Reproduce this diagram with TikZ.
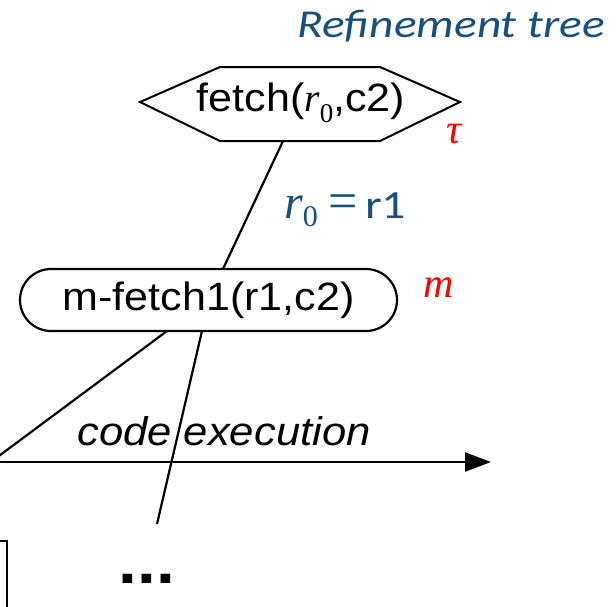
\documentclass[tikz,border=0pt]{standalone}
\usepackage{fontspec}
\setmainfont{Liberation Sans}[FakeStretch=1.09]
\newfontfamily\tms{Liberation Serif}
\newfontfamily\calfont{Carlito}[FakeStretch=1.2]
\usetikzlibrary{arrows.meta}
\definecolor{treeblue}{HTML}{17507F}
\definecolor{labelred}{HTML}{FF0000}
% r with subscript zero, in a Times-like face
\newcommand{\rzero}[2]{{\tms\itshape r}\raisebox{-#2}{\tms\fontsize{#1}{#1}\selectfont 0}}
\begin{document}
\begin{tikzpicture}[x=1pt,y=-1pt,line width=2.2pt,
  lbl/.style={inner sep=0pt,anchor=base},
  big/.style={font=\fontsize{39.5}{47}\selectfont},
  redlbl/.style={lbl,text=labelred,font=\tms\itshape\fontsize{42}{42}\selectfont},
  pill/.style={draw,rounded corners=31pt,minimum width=377pt,minimum height=62pt,inner sep=0pt}]
\useasboundingbox (0,0) rectangle (616,606);

% title
\node[lbl,anchor=base east,text=treeblue,font=\calfont\itshape\fontsize{39.5}{39.5}\selectfont] (title) at (606,37) {Refinement tree};

% task node (hexagon)
\draw[line width=2pt] (140,102) -- (220,67) -- (380,67) -- (460,102) -- (380,141) -- (220,141) -- cycle;
\coordinate (hexbot) at (283,141);
\node[lbl,big] (fetch) at (301,111) {fetch(\rzero{27}{11pt},c2)};
\node[redlbl] (tau) at (454,143) {τ};

% method node
\node[pill,big] (mfetch) at (208.5,300) {m-fetch1(r1,c2)};
\coordinate (mtop) at (223,269);
\node[redlbl] (mlab) at (439,297) {m};

% edge label
\node[lbl,anchor=base west,text=treeblue,font=\tms\fontsize{48}{48}\selectfont] (bind) at (283,218)
  {\rzero{30}{8pt}\hspace{11pt}{\fontsize{52}{52}\selectfont =}\hspace{7pt}{\calfont\fontsize{40}{40}\selectfont r1}};

\draw (hexbot) -- (mtop);

% children of the method
\coordinate (mbl) at (167,331);
\coordinate (mbr) at (202,331);
\coordinate (leftend) at (-20,470);
\coordinate (rightend) at (157,524);
\draw (mbl) -- (leftend);
\draw (mbr) -- (rightend);

% execution time line
\coordinate (tstart) at (-5,462);
\coordinate (tend) at (491,462);
\draw[-{Triangle[length=26pt,width=19pt]}] (tstart) -- (tend);
\node[lbl,font=\itshape\fontsize{40}{40}\selectfont] (code) at (224,445) {code execution};

% leaf box and further children
\draw (-10,541) rectangle (7,620);
\node[lbl,font=\bfseries\fontsize{62}{62}\selectfont] (more) at (147,583) {...};
\end{tikzpicture}
\end{document}
